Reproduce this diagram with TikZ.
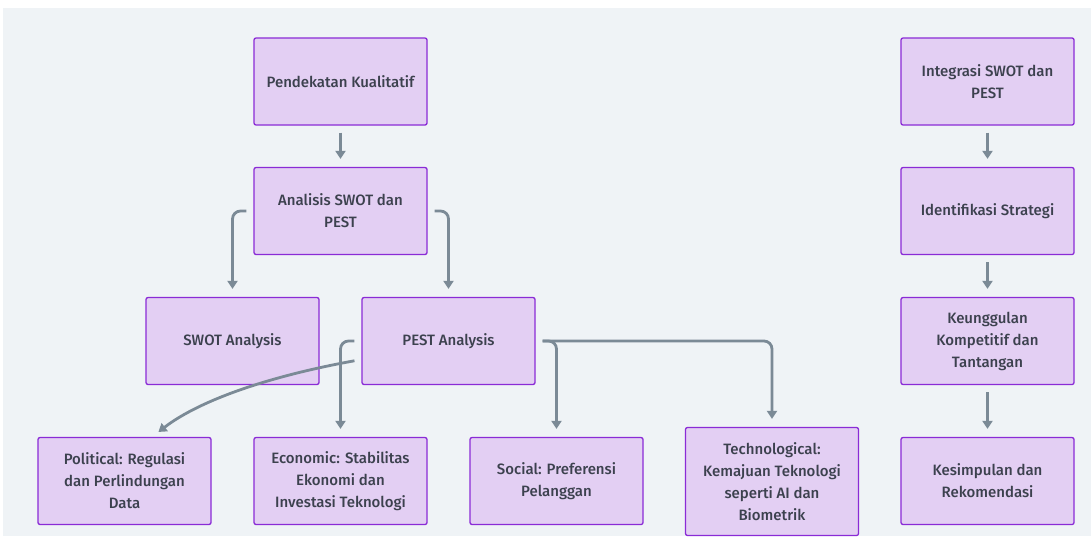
\documentclass[tikz,border=0pt]{standalone}
\usepackage{fontspec}
\setmainfont{Fira Sans}[UprightFont=* Medium]
\usetikzlibrary{arrows.meta}
\definecolor{boxfill}{HTML}{E3CFF3}
\definecolor{boxline}{HTML}{8A2BD6}
\definecolor{flowgray}{HTML}{7B8A96}
\definecolor{canvas}{HTML}{EFF3F6}
\definecolor{txt}{HTML}{3C414E}

\begin{document}
\begin{tikzpicture}[x=1pt,y=-1pt,
   box/.style={draw=boxline,fill=boxfill,line width=1.3pt,rounded corners=2pt,
     minimum width=173pt,minimum height=87pt,inner sep=0pt,align=center,
     text=txt,font=\fontsize{15}{22}\selectfont},
   flow/.style={draw=flowgray,line width=2.8pt,rounded corners=8pt,
     -{Triangle[width=10pt,length=8pt]},shorten <=7pt,shorten >=8pt}]
   \fill[white] (0,0) rectangle (1091,536);
   \fill[canvas] (3,8) rectangle (1091,536);

   % left column
   \node[box] (pend) at (340.5,81.5) {Pendekatan Kualitatif};
   \node[box] (anal) at (340.5,211) {Analisis SWOT dan\\PEST};
   \node[box] (swot) at (232.5,341) {SWOT Analysis};
   \node[box] (pest) at (448.5,341) {PEST Analysis};
   \node[box] (pol) at (124.5,481) {Political: Regulasi\\dan Perlindungan\\Data};
   \node[box] (eco) at (340.5,481) {Economic: Stabilitas\\Ekonomi dan\\Investasi Teknologi};
   \node[box] (soc) at (556.5,481) {Social: Preferensi\\Pelanggan};
   \node[box,minimum height=108pt] (tech) at (772,481.5) {Technological:\\Kemajuan Teknologi\\seperti AI dan\\Biometrik};

   % right column
   \node[box] (integ) at (987.5,81.5) {Integrasi SWOT dan\\PEST};
   \node[box] (ident) at (987.5,211) {Identifikasi Strategi};
   \node[box] (keung) at (987.5,341) {Keunggulan\\Kompetitif dan\\Tantangan};
   \node[box] (kesim) at (987.5,481) {Kesimpulan dan\\Rekomendasi};

   \path (pend) edge[flow] (anal);
   \draw[flow] (anal.west) -| (swot.north);
   \draw[flow] (anal.east) -| (pest.north);
   \draw[flow] (pest.west) -| (eco.north);
   \draw[flow] (pest.east) -| (soc.north);
   \draw[flow] (pest.east) -| (tech.north);
   \draw[flow] (pest.192) .. controls (270,376) and (200,400) .. (pol.58);

   \path (integ) edge[flow] (ident);
   \path (ident) edge[flow] (keung);
   \path (keung) edge[flow] (kesim);
\end{tikzpicture}
\end{document}
